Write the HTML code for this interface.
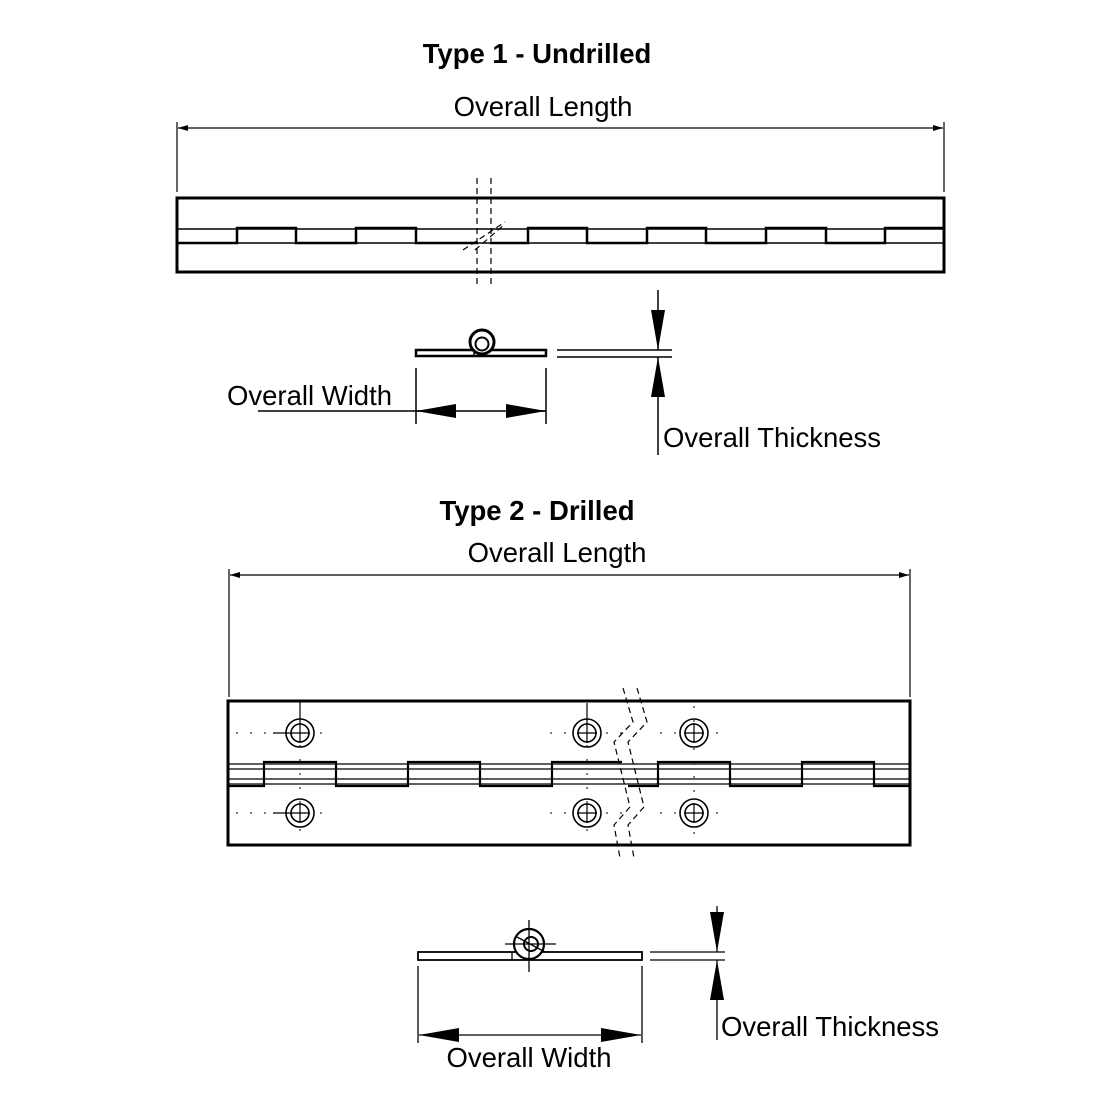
<!DOCTYPE html>
<html><head><style>body{margin:0;background:#fff}svg{display:block}</style></head><body>
<svg width="1100" height="1100" viewBox="0 0 1100 1100" xmlns="http://www.w3.org/2000/svg" font-family="Liberation Sans, sans-serif" fill="none" stroke="#000">
<defs>
<marker id="a" viewBox="0 0 10 10" refX="10" refY="5" markerWidth="10" markerHeight="10" orient="auto-start-reverse" markerUnits="userSpaceOnUse"><path d="M0,2 L10,5 L0,8z" fill="#000" stroke="none"/></marker>
<marker id="b" viewBox="0 0 40 14" refX="40" refY="7" markerWidth="40" markerHeight="14" orient="auto-start-reverse" markerUnits="userSpaceOnUse"><path d="M0,0 L40,7 L0,14z" fill="#000" stroke="none"/></marker>
</defs>
<g fill="#000" stroke="none" font-size="27.5">
<text x="537" y="63" text-anchor="middle" font-weight="bold">Type 1 - Undrilled</text>
<text x="543" y="116" text-anchor="middle">Overall Length</text>
<text x="227" y="405">Overall Width</text>
<text x="663" y="447">Overall Thickness</text>
<text x="537" y="520" text-anchor="middle" font-weight="bold">Type 2 - Drilled</text>
<text x="557" y="562" text-anchor="middle">Overall Length</text>
<text x="529" y="1067" text-anchor="middle">Overall Width</text>
<text x="721" y="1036">Overall Thickness</text>
</g>
<g stroke-width="1.2">
<line x1="177" y1="122" x2="177" y2="192"/><line x1="944" y1="122" x2="944" y2="192"/>
<line x1="178" y1="128" x2="943" y2="128" marker-start="url(#a)" marker-end="url(#a)"/>
</g>
<rect x="177" y="198" width="767" height="74" stroke-width="3"/>
<g stroke-width="1.5">
<line x1="177" y1="229" x2="944" y2="229"/><line x1="177" y1="243" x2="944" y2="243"/>
</g>
<g stroke-width="2.5">
<path d="M177 243H237V228H296V243H356V228H416V243H478"/>
<path d="M490 243H528V228H587V243H647V228H706V243H766V228H826V243H885V228H944"/>
</g>
<g stroke-width="1.2" stroke-dasharray="6,4">
<line x1="477" y1="178" x2="477" y2="288"/><line x1="491" y1="178" x2="491" y2="288"/>
<line x1="463" y1="250" x2="505" y2="222"/><line x1="475" y1="250" x2="505" y2="224"/>
</g>
<rect x="416" y="350" width="130" height="6" stroke-width="2.5"/>
<circle cx="482" cy="342" r="12" stroke-width="3" fill="#fff"/>
<circle cx="482" cy="344" r="6.5" stroke-width="2"/>
<line x1="474" y1="349" x2="474" y2="356" stroke-width="1.5"/>
<g stroke-width="1.5">
<line x1="416" y1="368" x2="416" y2="424"/><line x1="546" y1="368" x2="546" y2="424"/>
<line x1="258" y1="411" x2="546" y2="411"/>
<line x1="456" y1="411" x2="416" y2="411" marker-end="url(#b)"/>
<line x1="506" y1="411" x2="546" y2="411" marker-end="url(#b)"/>
<line x1="557" y1="350" x2="672" y2="350"/><line x1="557" y1="357" x2="672" y2="357"/>
<line x1="658" y1="290" x2="658" y2="350" marker-end="url(#b)"/>
<line x1="658" y1="455" x2="658" y2="357" marker-end="url(#b)"/>
</g>
<g stroke-width="1.2">
<line x1="229" y1="569" x2="229" y2="697"/><line x1="910" y1="569" x2="910" y2="697"/>
<line x1="230" y1="575" x2="909" y2="575" marker-start="url(#a)" marker-end="url(#a)"/>
</g>
<rect x="228" y="701" width="682" height="144" stroke-width="3"/>
<g stroke-width="1.2">
<line x1="228" y1="764" x2="910" y2="764"/><line x1="228" y1="769" x2="910" y2="769"/>
<line x1="228" y1="779" x2="910" y2="779"/><line x1="228" y1="784" x2="910" y2="784"/>
</g>
<g stroke-width="2.2">
<path d="M228 786H264V762H336V786H408V762H480V786H552V762H622"/>
<path d="M628 786H658V762H730V786H802V762H874V786H910"/>
</g>
<g stroke-width="1.6">
<circle cx="300" cy="733" r="14"/><circle cx="300" cy="733" r="9"/>
<circle cx="587" cy="733" r="14"/><circle cx="587" cy="733" r="9"/>
<circle cx="694" cy="733" r="14"/><circle cx="694" cy="733" r="9"/>
<circle cx="300" cy="813" r="14"/><circle cx="300" cy="813" r="9"/>
<circle cx="587" cy="813" r="14"/><circle cx="587" cy="813" r="9"/>
<circle cx="694" cy="813" r="14"/><circle cx="694" cy="813" r="9"/>
</g>
<g stroke-width="1.2">
<path d="M273 733H310M300 702V743M290 733H310M577 733H597M587 703V743M684 733H704M694 723V743M273 813H310M300 803V823M577 813H597M587 803V823M684 813H704M694 803V823"/>
</g>
<g stroke-width="1" stroke-dasharray="2,12">
<path d="M236 733H330M550 733H630M660 733H720M236 813H330M550 813H630M660 813H720M300 745V840M587 745V840M694 706V840"/>
</g>
<g stroke-width="1.2" stroke-dasharray="6,4">
<path d="M623 688L633 722L614 742L630 807L614 825L620 858"/>
<path d="M637 688L647 722L628 742L644 807L628 825L634 858"/>
</g>
<rect x="418" y="952" width="224" height="8" stroke-width="1.8"/>
<circle cx="529" cy="944" r="15" stroke-width="2.2" fill="#fff"/>
<circle cx="531" cy="944" r="7" stroke-width="2"/>
<g stroke-width="1.3">
<path d="M505 944H556M529 920V972M517 937L545 952M512 952V960"/>
<line x1="418" y1="966" x2="418" y2="1043"/><line x1="642" y1="966" x2="642" y2="1043"/>
<line x1="419" y1="1035" x2="641" y2="1035" marker-start="url(#b)" marker-end="url(#b)"/>
<line x1="650" y1="952" x2="725" y2="952"/><line x1="650" y1="960" x2="725" y2="960"/>
<line x1="717" y1="906" x2="717" y2="952" marker-end="url(#b)"/>
<line x1="717" y1="1040" x2="717" y2="960" marker-end="url(#b)"/>
</g>
</svg>
</body></html>
